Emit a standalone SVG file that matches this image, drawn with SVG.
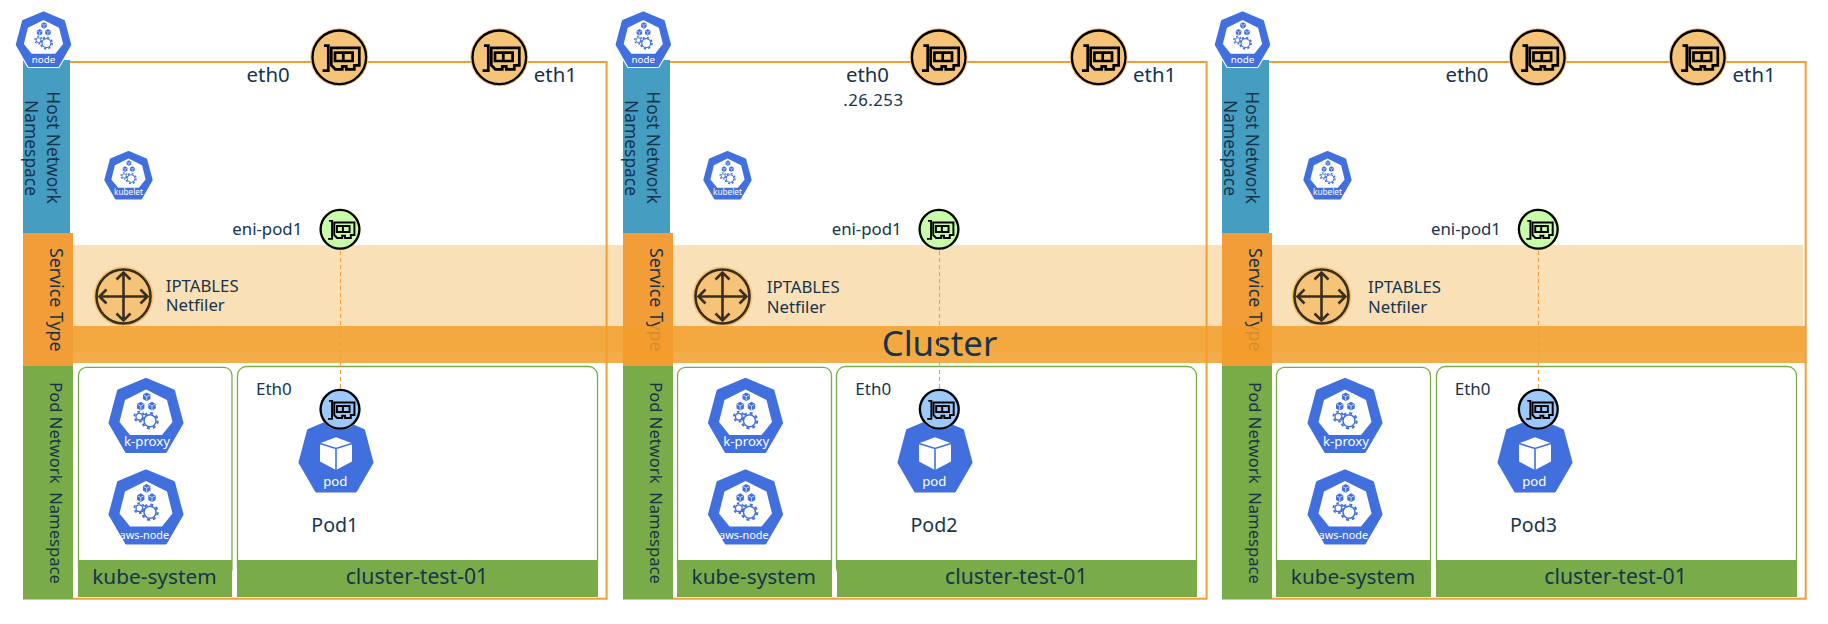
<svg xmlns="http://www.w3.org/2000/svg" width="1828" height="624" viewBox="0 0 1828 624">
<style>
text{font-family:"Noto Sans","Open Sans","Liberation Sans",sans-serif;fill:#16344C}
.m{text-anchor:middle}
.w{fill:#fff;text-anchor:middle}
.host{fill:#459DC1}.svc{fill:#F29D38}.pns{fill:#79AB49}
.frame{fill:none;stroke:#F29D38;stroke-width:2}
.card{fill:#fff;stroke:#79AB49;stroke-width:1.3}
.dash{fill:none;stroke:#F29D38;stroke-width:1.1;stroke-dasharray:4 3}
.t20{font-size:20.4px}.t17{font-size:17.4px}.t165{font-size:16.6px}.t178{font-size:17.8px}.t16{font-size:16.8px}
.t21{font-size:21.2px}.t205{font-size:20.8px}.t195{font-size:19.6px}
.halo-o{fill:#F6C478}.halo-g{fill:#C8FBAA}.halo-b{fill:#9CC9F9}
.ring{fill:none;stroke:#000;stroke-width:2.3}
.glyph{fill:none;stroke:#000;stroke-width:2.7}
</style>
<defs>
<g id="hept"><polygon points="0,1.5 27.5,13 36,45 19.5,73.5 -19.5,73.5 -36,45 -27.5,13" fill="#4170DE" stroke="#4170DE" stroke-width="3" stroke-linejoin="round"/></g>
<g id="cube"><polygon points="0,-4.2 3.7,-2.1 3.7,2.4 0,4.5 -3.7,2.4 -3.7,-2.1" fill="#4170DE"/><path d="M-3,-1.6 0,0 3,-1.6M0,0V4" fill="none" stroke="#fff" stroke-width=".7"/></g>
<g id="ctl">
<use href="#hept"/>
<polygon points="0,11.5 21,22 26.5,44 16,57 -16,57 -26.5,44 -21,22" fill="#fff"/>
<use href="#cube" x="0.7" y="18.7"/><use href="#cube" x="-5.3" y="28"/><use href="#cube" x="6" y="28"/>
<circle cx="-6.7" cy="38.7" r="3.3" fill="#fff" stroke="#4170DE" stroke-width="1.3"/>
<circle cx="-6.7" cy="38.7" r="5" fill="none" stroke="#4170DE" stroke-width="1.8" stroke-dasharray="2.6 2.64"/>
<circle cx="4" cy="42.7" r="6" fill="#fff" stroke="#4170DE" stroke-width="1.5"/>
<circle cx="4" cy="42.7" r="7.7" fill="none" stroke="#4170DE" stroke-width="2.2" stroke-dasharray="3 3.05"/>
</g>
<g id="podicon">
<use href="#hept"/>
<polygon points="-16,25.8 0,19.8 16,25.8 16,44 0,52.5 -16,44" fill="#fff"/>
<path d="M-16,26 0,31 16,26M0,31V52.5" fill="none" stroke="#4170DE" stroke-width="1.6"/>
</g>
<g id="nic" class="glyph">
<path d="M-15.3,-11.7H-11V13.3H-16.7"/>
<path d="M-8,-9.5H20V8H15V12H7V9H3V12H-4L-8,8Z"/>
<path d="M-4.3,-4.7H13.3V3.7H-4.3ZM4,-4.7V3.7"/>
</g>
<g id="nic-o"><circle r="29" class="halo-o"/><circle r="26.8" class="ring"/><use href="#nic"/></g>
<g id="nic-g"><circle r="20.7" class="halo-g"/><circle r="19.4" class="ring"/><use href="#nic" transform="scale(.72)"/></g>
<g id="nic-b"><circle r="20.7" class="halo-b"/><circle r="19.4" class="ring"/><use href="#nic" transform="scale(.72)"/></g>
<g id="router">
<circle r="30" fill="#F6C478"/>
<circle r="27" fill="none" stroke="#3A2E20" stroke-width="2.6"/>
<path d="M-23,0H23M0,-23V23M-17,-7-24,0-17,7M17,-7 24,0 17,7M-7,-17 0,-24 7,-17M-7,17 0,24 7,17" fill="none" stroke="#3A2E20" stroke-width="2.6"/>
</g>
</defs>
<rect width="1828" height="624" fill="#fff"/>

<rect id="service-strip" x="70" y="245" width="1733" height="107" fill="#FAE0B6"/>

<g id="frames">
<rect class="frame" x="24" y="62" width="582.6" height="536.7"/>
<rect class="frame" x="624" y="62" width="582.6" height="536.7"/>
<rect class="frame" x="1223" y="62" width="582.7" height="536.7"/>
</g>

<g id="host-bands">
<rect class="host" x="23" y="60" width="47" height="173"/>
<text class="t17 m" transform="translate(46.7,147.5) rotate(90)">Host Network</text>
<text class="t17 m" transform="translate(25,148) rotate(90)">Namespace</text>
<rect class="host" x="623" y="60" width="47" height="173"/>
<text class="t17 m" transform="translate(646.7,147.5) rotate(90)">Host Network</text>
<text class="t17 m" transform="translate(625,148) rotate(90)">Namespace</text>
<rect class="host" x="1222" y="60" width="47" height="173"/>
<text class="t17 m" transform="translate(1245.7,147.5) rotate(90)">Host Network</text>
<text class="t17 m" transform="translate(1224,148) rotate(90)">Namespace</text>
</g>

<g id="service-2">
<rect class="svc" x="623" y="233" width="50" height="133"/>
<text class="t178 m" transform="translate(650,299.7) rotate(90)">Service Type</text>
</g>
<g id="service-3">
<rect class="svc" x="1222" y="233" width="50" height="133"/>
<text class="t178 m" transform="translate(1249,299.7) rotate(90)">Service Type</text>
</g>

<g id="router-1"><use href="#router" x="123.5" y="296.5"/><text class="t16" x="165.7" y="291.7">IPTABLES</text><text class="t16" x="165.7" y="311">Netfiler</text></g>
<g id="router-2"><use href="#router" x="722.5" y="296.5"/><text class="t16" x="766.7" y="293">IPTABLES</text><text class="t16" x="766.7" y="312.7">Netfiler</text></g>
<g id="router-3"><use href="#router" x="1321.5" y="296.5"/><text class="t16" x="1368" y="293">IPTABLES</text><text class="t16" x="1368" y="312.7">Netfiler</text></g>

<g id="cluster-band">
<rect x="73" y="326" width="1733" height="37" fill="#F29D2B" fill-opacity=".85"/>
<text class="m" x="939.5" y="356" font-size="34.8">Cluster</text>
</g>

<g id="service-1">
<rect class="svc" x="23" y="233" width="50" height="133"/>
<text class="t178 m" transform="translate(50,299.7) rotate(90)">Service Type</text>
</g>

<g id="pod-bands">
<rect class="pns" x="23" y="366" width="50" height="233"/>
<text class="t165 m" xml:space="preserve" transform="translate(50,483) rotate(90)">Pod Network  Namespace</text>
<rect class="pns" x="623" y="366" width="50" height="233"/>
<text class="t165 m" xml:space="preserve" transform="translate(650,483) rotate(90)">Pod Network  Namespace</text>
<rect class="pns" x="1222" y="366" width="50" height="233"/>
<text class="t165 m" xml:space="preserve" transform="translate(1248.5,483) rotate(90)">Pod Network  Namespace</text>
</g>

<g id="ns-kube-system-1"><rect class="card" x="78.5" y="367.3" width="153.5" height="210" rx="8"/><rect class="pns" x="78" y="560" width="154" height="37"/><text class="t205 m" x="154.4" y="584">kube-system</text></g>
<g id="ns-cluster-test-1"><rect class="card" x="237.5" y="366.5" width="360" height="210" rx="9"/><rect class="pns" x="237" y="560" width="361" height="37"/><text class="t21" x="345.7" y="584.3">cluster-test-01</text></g>
<g id="ns-kube-system-2"><rect class="card" x="677.5" y="367.3" width="154" height="210" rx="8"/><rect class="pns" x="677" y="560" width="155" height="37"/><text class="t205 m" x="753.8" y="584">kube-system</text></g>
<g id="ns-cluster-test-2"><rect class="card" x="836.5" y="366.5" width="360" height="210" rx="9"/><rect class="pns" x="837" y="560" width="360" height="37"/><text class="t21" x="945" y="584.3">cluster-test-01</text></g>
<g id="ns-kube-system-3"><rect class="card" x="1276.5" y="367.3" width="154" height="210" rx="8"/><rect class="pns" x="1276" y="560" width="155" height="37"/><text class="t205 m" x="1353" y="584">kube-system</text></g>
<g id="ns-cluster-test-3"><rect class="card" x="1436.5" y="366.5" width="360" height="210" rx="9"/><rect class="pns" x="1436" y="560" width="361" height="37"/><text class="t21" x="1544.3" y="584.3">cluster-test-01</text></g>

<g id="connectors">
<path class="dash" d="M340.5,251V389"/>
<path class="dash" d="M939.5,251V389"/>
<path class="dash" d="M1538.5,251V389"/>
</g>

<g id="host-1">
<g id="node-1"><polygon points="0,1.5 27.5,13 36,45 19.5,73.5 -19.5,73.5 -36,45 -27.5,13" transform="translate(43.5,11.5) scale(.74)" fill="#fff" stroke="#fff" stroke-width="6" stroke-linejoin="round"/><use href="#ctl" transform="translate(43.5,11.5) scale(.74)"/><text class="w" x="43.5" y="62.6" font-size="9.8">node</text></g>
<g id="kubelet-1"><use href="#ctl" transform="translate(128.5,151) scale(.645)"/><text class="w" x="128.5" y="195" font-size="8.2">kubelet</text></g>
<g id="eth0-1"><use href="#nic-o" x="339.3" y="57.3"/><text class="t20" x="246.6" y="81.5">eth0</text></g>
<g id="eth1-1"><use href="#nic-o" x="499.3" y="57.3"/><text class="t20" x="533.8" y="81.5">eth1</text></g>
<g id="eni-1"><use href="#nic-g" x="340" y="229.3"/><text class="t16" x="232.3" y="234.5">eni-pod1</text></g>
</g>
<g id="host-2">
<g id="node-2"><polygon points="0,1.5 27.5,13 36,45 19.5,73.5 -19.5,73.5 -36,45 -27.5,13" transform="translate(643.3,11.5) scale(.74)" fill="#fff" stroke="#fff" stroke-width="6" stroke-linejoin="round"/><use href="#ctl" transform="translate(643.3,11.5) scale(.74)"/><text class="w" x="643.3" y="62.6" font-size="9.8">node</text></g>
<g id="kubelet-2"><use href="#ctl" transform="translate(727.5,151) scale(.645)"/><text class="w" x="727.5" y="195" font-size="8.2">kubelet</text></g>
<g id="eth0-2"><use href="#nic-o" x="938.7" y="57.3"/><text class="t20" x="845.9" y="81.5">eth0</text><text class="t16" x="843.3" y="106" letter-spacing=".45">.26.253</text></g>
<g id="eth1-2"><use href="#nic-o" x="1098.7" y="57.3"/><text class="t20" x="1133.1" y="81.5">eth1</text></g>
<g id="eni-2"><use href="#nic-g" x="939" y="229.3"/><text class="t16" x="831.7" y="234.5">eni-pod1</text></g>
</g>
<g id="host-3">
<g id="node-3"><polygon points="0,1.5 27.5,13 36,45 19.5,73.5 -19.5,73.5 -36,45 -27.5,13" transform="translate(1242.5,11.5) scale(.74)" fill="#fff" stroke="#fff" stroke-width="6" stroke-linejoin="round"/><use href="#ctl" transform="translate(1242.5,11.5) scale(.74)"/><text class="w" x="1242.5" y="62.6" font-size="9.8">node</text></g>
<g id="kubelet-3"><use href="#ctl" transform="translate(1327.5,151) scale(.645)"/><text class="w" x="1327.5" y="195" font-size="8.2">kubelet</text></g>
<g id="eth0-3"><use href="#nic-o" x="1537.8" y="57.3"/><text class="t20" x="1445.4" y="81.5">eth0</text></g>
<g id="eth1-3"><use href="#nic-o" x="1697.8" y="57.3"/><text class="t20" x="1732.6" y="81.5">eth1</text></g>
<g id="eni-3"><use href="#nic-g" x="1538.3" y="229.3"/><text class="t16" x="1431" y="234.5">eni-pod1</text></g>
</g>

<g id="pods-1">
<g id="kproxy-1"><use href="#ctl" transform="translate(146,378)"/><text class="w" x="147" y="446" font-size="13.2">k-proxy</text></g>
<g id="awsnode-1"><use href="#ctl" transform="translate(146,469.5)"/><text class="w" x="144.3" y="539.3" font-size="10.9">aws-node</text></g>
<g id="pod-1"><use href="#podicon" transform="translate(336,417.5)"/><text class="w" x="335.3" y="485.7" font-size="13.2">pod</text><use href="#nic-b" x="340" y="409.3"/><text class="t195" x="311.3" y="532.3">Pod1</text><text font-size="17" x="256" y="395">Eth0</text></g>
</g>
<g id="pods-2">
<g id="kproxy-2"><use href="#ctl" transform="translate(745.5,378)"/><text class="w" x="746.3" y="446" font-size="13.2">k-proxy</text></g>
<g id="awsnode-2"><use href="#ctl" transform="translate(745.5,469.5)"/><text class="w" x="743.8" y="539.3" font-size="10.9">aws-node</text></g>
<g id="pod-2"><use href="#podicon" transform="translate(935,417.5)"/><text class="w" x="934.3" y="485.7" font-size="13.2">pod</text><use href="#nic-b" x="939.3" y="409.3"/><text class="t195" x="910.5" y="532.3">Pod2</text><text font-size="17" x="855.3" y="395">Eth0</text></g>
</g>
<g id="pods-3">
<g id="kproxy-3"><use href="#ctl" transform="translate(1345,378)"/><text class="w" x="1346" y="446" font-size="13.2">k-proxy</text></g>
<g id="awsnode-3"><use href="#ctl" transform="translate(1345,469.5)"/><text class="w" x="1343.3" y="539.3" font-size="10.9">aws-node</text></g>
<g id="pod-3"><use href="#podicon" transform="translate(1535,417.5)"/><text class="w" x="1534.3" y="485.7" font-size="13.2">pod</text><use href="#nic-b" x="1538.3" y="409.3"/><text class="t195" x="1510" y="532.3">Pod3</text><text font-size="17" x="1454.7" y="395">Eth0</text></g>
</g>
</svg>
